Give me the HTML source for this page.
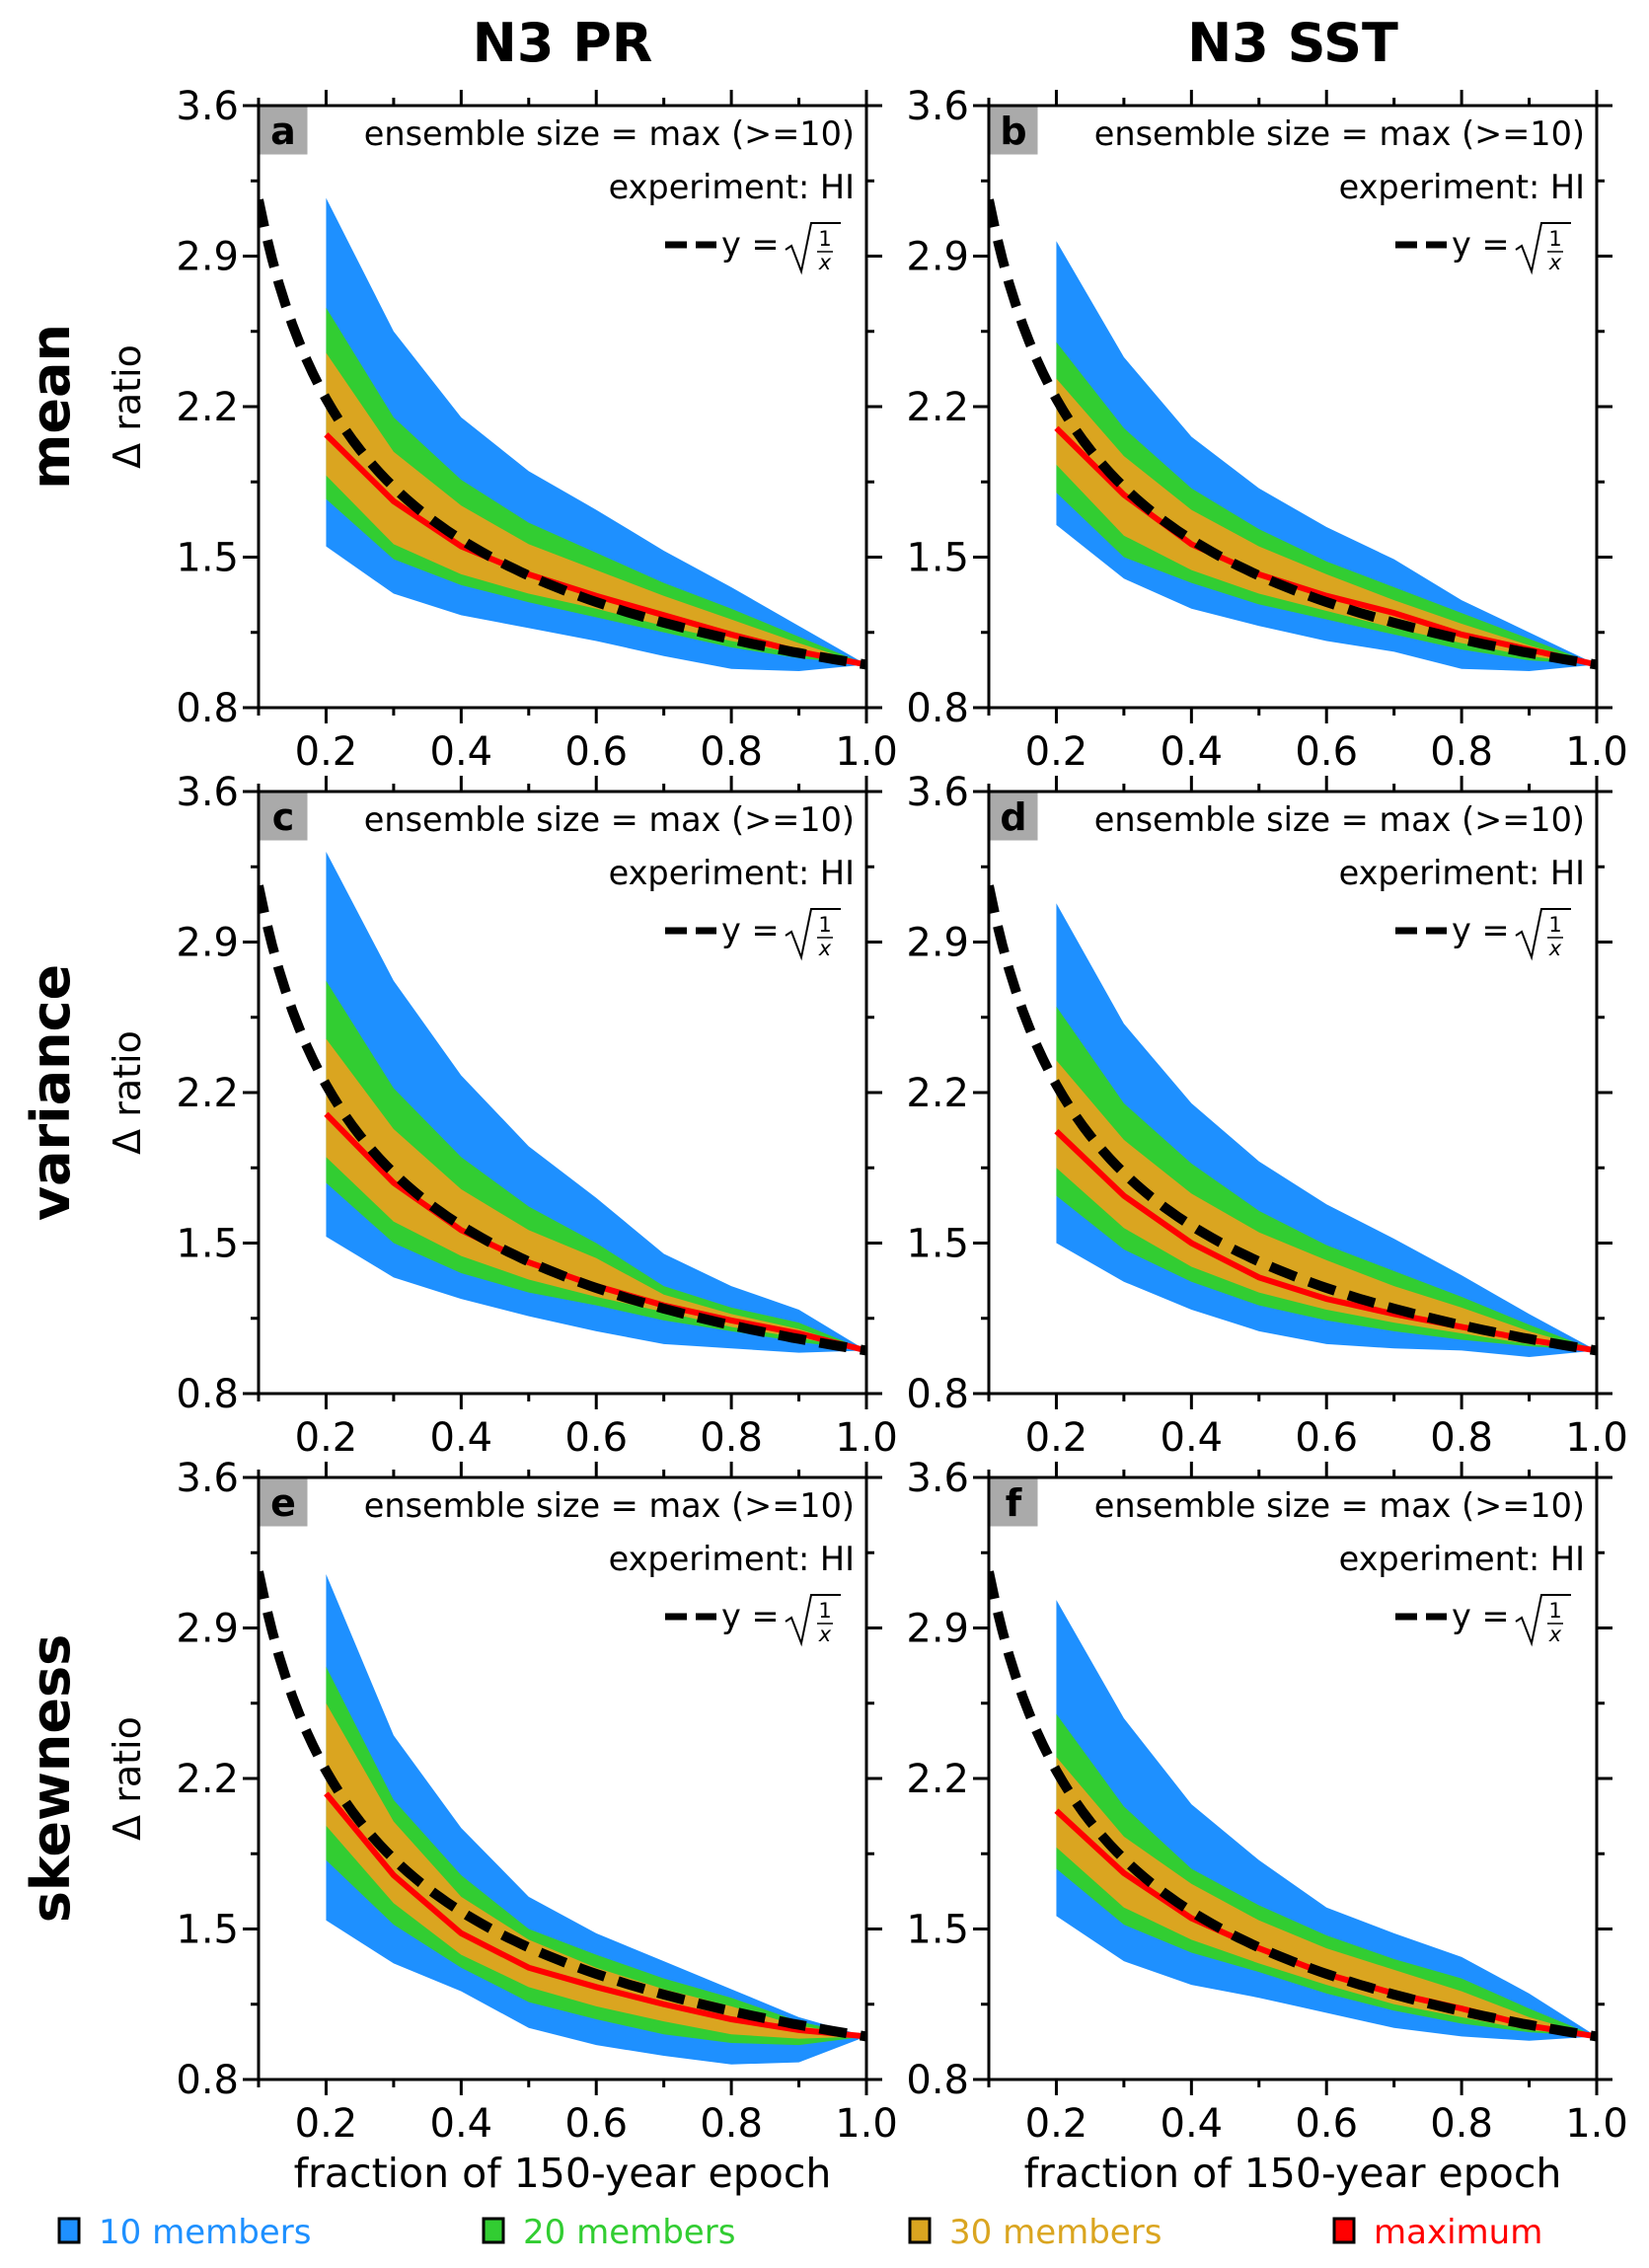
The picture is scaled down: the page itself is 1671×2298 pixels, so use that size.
<!DOCTYPE html>
<html><head><meta charset="utf-8"><style>
html,body{margin:0;padding:0;background:#fff}
svg{display:block;font-family:"DejaVu Sans","Liberation Sans",sans-serif}
</style></head><body>
<svg id="fig" width="1671" height="2298" viewBox="0 0 1671 2298" xmlns="http://www.w3.org/2000/svg"></svg>
<script>
const xFractions=[0.2,0.3,0.4,0.5,0.6,0.7,0.8,0.9,1.0];
const panelLetters=['a','b','c','d','e','f'];
const rowLabels=['mean','variance','skewness'];
const colTitles=['N3 PR','N3 SST'];
const yTicks=[0.8,1.5,2.2,2.9,3.6];
const xTicks=[0.2,0.4,0.6,0.8,1.0];
const blueUp=[
[3.17,2.55,2.15,1.9,1.72,1.53,1.36,1.18,1.0],
[2.97,2.43,2.06,1.82,1.64,1.49,1.30,1.15,1.0],
[3.32,2.72,2.28,1.95,1.71,1.45,1.30,1.19,1.0],
[3.08,2.52,2.15,1.88,1.68,1.52,1.35,1.17,1.0],
[3.15,2.40,1.97,1.65,1.48,1.35,1.22,1.09,1.0],
[3.03,2.48,2.08,1.82,1.60,1.48,1.37,1.20,1.0]];
const greenUp=[
[2.66,2.15,1.86,1.66,1.52,1.38,1.26,1.13,1.0],
[2.50,2.10,1.82,1.63,1.48,1.36,1.24,1.12,1.0],
[2.72,2.22,1.90,1.67,1.50,1.30,1.20,1.13,1.0],
[2.60,2.15,1.87,1.65,1.49,1.37,1.25,1.12,1.0],
[2.72,2.10,1.75,1.50,1.38,1.27,1.18,1.07,1.0],
[2.50,2.07,1.78,1.61,1.47,1.36,1.27,1.13,1.0]];
const goldUp=[
[2.45,1.99,1.74,1.56,1.44,1.32,1.21,1.10,1.0],
[2.33,1.97,1.72,1.55,1.42,1.30,1.19,1.09,1.0],
[2.45,2.03,1.75,1.56,1.43,1.26,1.17,1.10,1.0],
[2.35,1.98,1.73,1.55,1.42,1.30,1.20,1.09,1.0],
[2.55,2.00,1.65,1.45,1.32,1.22,1.14,1.05,1.0],
[2.30,1.93,1.71,1.54,1.41,1.31,1.21,1.09,1.0]];
const redMax=[
[2.07,1.76,1.55,1.42,1.32,1.23,1.14,1.06,1.0],
[2.10,1.79,1.56,1.42,1.32,1.24,1.14,1.07,1.0],
[2.10,1.78,1.56,1.41,1.30,1.21,1.14,1.08,1.0],
[2.02,1.72,1.50,1.34,1.24,1.17,1.11,1.05,1.0],
[2.13,1.75,1.48,1.32,1.23,1.15,1.08,1.03,1.0],
[2.05,1.76,1.55,1.41,1.29,1.20,1.13,1.05,1.0]];
const goldLo=[
[1.88,1.56,1.42,1.33,1.26,1.18,1.11,1.05,1.0],
[1.93,1.60,1.44,1.33,1.25,1.17,1.10,1.04,1.0],
[1.90,1.60,1.44,1.33,1.25,1.18,1.11,1.06,1.0],
[1.85,1.57,1.39,1.27,1.19,1.13,1.08,1.03,1.0],
[1.98,1.62,1.38,1.23,1.14,1.07,1.01,0.99,1.0],
[1.88,1.60,1.45,1.34,1.24,1.15,1.09,1.03,1.0]];
const greenLo=[
[1.77,1.49,1.37,1.29,1.22,1.15,1.08,1.03,1.0],
[1.80,1.50,1.38,1.28,1.21,1.14,1.07,1.02,1.0],
[1.78,1.50,1.36,1.27,1.21,1.14,1.09,1.04,1.0],
[1.72,1.47,1.32,1.21,1.14,1.09,1.05,1.02,1.0],
[1.82,1.52,1.32,1.16,1.08,1.01,0.97,0.96,1.0],
[1.78,1.52,1.39,1.30,1.20,1.12,1.06,1.02,1.0]];
const blueLo=[
[1.55,1.33,1.23,1.17,1.11,1.04,0.98,0.97,1.0],
[1.65,1.40,1.26,1.18,1.11,1.06,0.98,0.97,1.0],
[1.53,1.34,1.24,1.16,1.09,1.03,1.01,0.99,1.0],
[1.50,1.32,1.19,1.09,1.03,1.01,1.00,0.97,1.0],
[1.54,1.34,1.21,1.04,0.96,0.91,0.87,0.88,1.0],
[1.56,1.35,1.24,1.18,1.11,1.04,1.00,0.98,1.0]];
const legendLabels=['10 members','20 members','30 members','maximum'];
const legendColors=['#1e90ff','#32cd32','#daa520','#ff0000'];

const NS='http://www.w3.org/2000/svg';
const svg=document.getElementById('fig');
function mk(tag,attrs,parent){const e=document.createElementNS(NS,tag);for(const k in attrs)e.setAttribute(k,attrs[k]);(parent||svg).appendChild(e);return e;}
const colX=[262,1002], rowY=[107,802,1497], W=616, H=610;
const defs=mk('defs',{});

for(let c=0;c<2;c++){
  const t=mk('text',{x:colX[c]+W/2,y:62,'text-anchor':'middle','font-size':54,'font-weight':'bold'});
  t.textContent=colTitles[c];
  
  
}
for(let r=0;r<3;r++){
  const cy=rowY[r]+H/2;
  const t=mk('text',{x:0,y:0,transform:`translate(70 ${cy}) rotate(-90)`,'text-anchor':'middle','font-size':54,'font-weight':'bold'});
  t.textContent=rowLabels[r];
  
  
}

for(let p=0;p<6;p++){
  const r=Math.floor(p/2), c=p%2;
  const x0=colX[c], y0=rowY[r];
  const sx=v=>x0+(v-0.1)/0.9*W;
  const sy=v=>y0+H-(v-0.8)/2.8*H;
  const g=mk('g',{});
  
  
  mk('clipPath',{id:'clip'+p},defs);
  mk('rect',{x:x0,y:y0,width:W,height:H},defs.lastChild);
  const band=(up,lo,col,name)=>{
    let pts=xFractions.map((x,i)=>sx(x)+','+sy(up[p][i]));
    pts=pts.concat(xFractions.map((x,i)=>sx(x)+','+sy(lo[p][i])).reverse());
    const e=mk('polygon',{points:pts.join(' '),fill:col,'clip-path':`url(#clip${p})`},g);
    
    
  };
  band(blueUp,blueLo,'#1e90ff','band-10-members');
  band(greenUp,greenLo,'#32cd32','band-20-members');
  band(goldUp,goldLo,'#daa520','band-30-members');
  const red=mk('polyline',{points:xFractions.map((x,i)=>sx(x)+','+sy(redMax[p][i])).join(' '),fill:'none',stroke:'#ff0000','stroke-width':6,'clip-path':`url(#clip${p})`},g);
  
  
  let d='';
  for(let i=0;i<=90;i++){const x=0.1+i*0.01;d+=(i?'L':'M')+sx(x).toFixed(1)+' '+sy(Math.sqrt(1/x)).toFixed(1);}
  const dl=mk('path',{d:d,fill:'none',stroke:'#000','stroke-width':10,'stroke-dasharray':'28 14','clip-path':`url(#clip${p})`},g);
  
  
  const fr=mk('rect',{x:x0,y:y0,width:W,height:H,fill:'none',stroke:'#000','stroke-width':3},g);
  
  
  for(let k=0;k<9;k++){
    const v=0.8+k*0.35, yy=sy(v), major=k%2===0, L=major?16:8;
    mk('line',{x1:x0-L,x2:x0,y1:yy,y2:yy,stroke:'#000','stroke-width':3},g);
    mk('line',{x1:x0+W,x2:x0+W+L,y1:yy,y2:yy,stroke:'#000','stroke-width':3},g);
  }
  yTicks.forEach(v=>{
    const t=mk('text',{x:x0-20,y:sy(v)+14,'text-anchor':'end','font-size':40},g);
    t.textContent=v.toFixed(1);
    
    
  });
  for(let k=0;k<10;k++){
    const v=0.1+k*0.1, xx=sx(v), major=k%2===1, L=major?16:8;
    mk('line',{x1:xx,x2:xx,y1:y0-L,y2:y0,stroke:'#000','stroke-width':3},g);
    mk('line',{x1:xx,x2:xx,y1:y0+H,y2:y0+H+L,stroke:'#000','stroke-width':3},g);
  }
  xTicks.forEach(v=>{
    const t=mk('text',{x:sx(v),y:y0+H+58,'text-anchor':'middle','font-size':40},g);
    t.textContent=v.toFixed(1);
    
    
  });
  const lb=mk('rect',{x:x0+1.5,y:y0+1.5,width:48,height:48,fill:'#aaaaaa'},g);
  
  
  const lt=mk('text',{x:x0+25,y:y0+39,'text-anchor':'middle','font-size':38,'font-weight':'bold'},g);
  lt.textContent=panelLetters[p];
  
  
  const a1=mk('text',{x:x0+W-12,y:y0+40,'text-anchor':'end','font-size':33.5},g);
  a1.textContent='ensemble size = max (>=10)';
  
  
  const a2=mk('text',{x:x0+W-12,y:y0+94,'text-anchor':'end','font-size':33.5},g);
  a2.textContent='experiment: HI';
  
  
  const ld=mk('line',{x1:x0+W-204,x2:x0+W-152,y1:y0+141,y2:y0+141,stroke:'#000','stroke-width':7,'stroke-dasharray':'22 9'},g);
  
  
  const a3=mk('text',{x:x0+W-147,y:y0+152,'font-size':33.5},g);
  a3.textContent='y =';
  
  
  const rs=mk('path',{d:`M${x0+W-82} ${y0+146} L${x0+W-76} ${y0+142} L${x0+W-66} ${y0+168} L${x0+W-56} ${y0+119} L${x0+W-26} ${y0+119}`,fill:'none',stroke:'#000','stroke-width':2},g);
  
  
  const f1=mk('text',{x:x0+W-42,y:y0+142,'text-anchor':'middle','font-size':21},g);f1.textContent='1';
  mk('line',{x1:x0+W-50,x2:x0+W-34,y1:y0+148,y2:y0+148,stroke:'#000','stroke-width':1.5},g);
  const f2=mk('text',{x:x0+W-42,y:y0+166,'text-anchor':'middle','font-size':21,'font-style':'italic'},g);f2.textContent='x';
  if(c===0){
    const yl=mk('text',{x:0,y:0,transform:`translate(${x0-120} ${y0+H/2}) rotate(-90)`,'text-anchor':'middle','font-size':38},g);
    yl.textContent='Δ ratio';
    
    
  }
  if(r===2){
    const xl=mk('text',{x:x0+W/2,y:2216,'text-anchor':'middle','font-size':41},g);
    xl.textContent='fraction of 150-year epoch';
    
    
  }
}
const legX=[60,490,922,1352];
for(let i=0;i<4;i++){
  const g=mk('g',{});
  
  
  mk('rect',{x:legX[i],y:2248,width:20,height:24,fill:legendColors[i],stroke:'#000','stroke-width':3},g);
  const t=mk('text',{x:legX[i]+40,y:2273,'font-size':34,fill:legendColors[i]},g);
  t.textContent=legendLabels[i];
}
</script>
</body></html>
